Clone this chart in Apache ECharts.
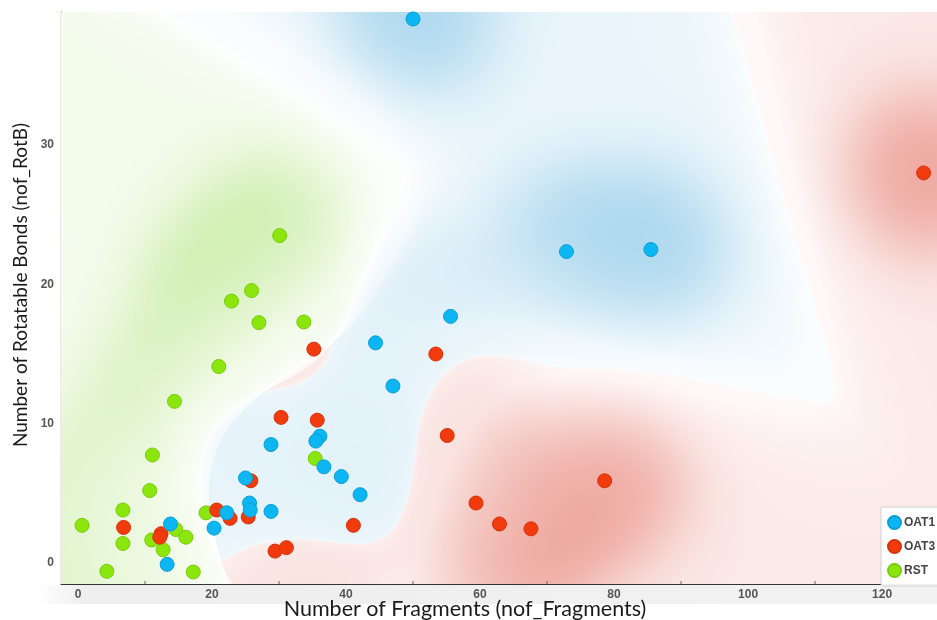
<!DOCTYPE html>
<html>
<head>
<meta charset="utf-8">
<script src="https://cdn.jsdelivr.net/npm/echarts@6/dist/echarts.min.js"></script>
<style>
html,body{margin:0;padding:0;background:#fff;}
#chart{width:937px;height:620px;}
</style>
</head>
<body>
<div id="chart"></div>
<script>
// ---- data ----
const oat1 = [
  [50.0,39.05],[72.9,22.35],[85.5,22.5],[55.6,17.7],[44.4,15.8],[47.0,12.7],
  [36.1,9.1],[35.5,8.75],[36.7,6.9],[39.3,6.2],[42.1,4.9],[28.8,8.5],
  [25.0,6.1],[25.6,4.3],[25.7,3.8],[22.2,3.6],[20.3,2.5],[28.8,3.7],
  [13.8,2.8],[13.3,-0.1]
];
const oat3 = [
  [126.2,28.0],[35.2,15.35],[53.4,15.0],[35.7,10.25],[55.1,9.15],[59.4,4.3],
  [62.9,2.8],[67.6,2.45],[41.1,2.7],[78.6,5.9],[30.3,10.45],[25.8,5.9],
  [20.7,3.8],[22.7,3.2],[25.4,3.3],[29.4,0.85],[31.1,1.1],[6.8,2.55],
  [12.4,2.1],[12.2,1.85]
];
const rst = [
  [30.1,23.5],[25.9,19.55],[22.9,18.8],[27.0,17.25],[33.7,17.3],[21.0,14.1],
  [14.4,11.6],[11.1,7.75],[10.7,5.2],[6.7,3.8],[0.6,2.7],[6.7,1.4],
  [11.0,1.65],[12.7,0.95],[14.6,2.4],[16.1,1.85],[4.3,-0.6],[17.2,-0.65],
  [19.1,3.6],[35.4,7.5]
];
const xTicks = [0,20,40,60,80,100,120];
const xMinorTicks = [10,30,50,70,90,110];
const yTicks = [0,10,20,30];
const classNames = ['OAT1','OAT3','RST'];

const X_MIN = -2.54, X_MAX = 128.2, Y_MIN = -1.51, Y_MAX = 39.55;

// ---- background class-probability surface, derived from the points ----
const groups = [oat1, oat3, rst];
const tint = [[160,210,236],[236,156,146],[198,235,160]];
const SX = 7.5, SY = 3.6, SXL = 14, SYL = 7;
function kde(g, xv, yv, sx, sy) {
  const pts = groups[g]; let s = 0;
  for (let k = 0; k < pts.length; k++) {
    const dx = (xv - pts[k][0]) / sx, dy = (yv - pts[k][1]) / sy;
    s += Math.exp(-0.5 * (dx*dx + dy*dy));
  }
  return s;
}
let bgCanvas = null, bgKey = '';
function buildBg(x0, y0, w, h) {
  const key = [x0,y0,w,h].join(',');
  if (bgCanvas && bgKey === key) return bgCanvas;
  const c = document.createElement('canvas');
  const W = Math.max(1, Math.round(w)), H = Math.max(1, Math.round(h));
  c.width = W; c.height = H;
  const ctx = c.getContext('2d');
  const img = ctx.createImageData(W, H);
  for (let j = 0; j < H; j++) {
    const yv = Y_MAX - (j + 0.5) / H * (Y_MAX - Y_MIN);
    for (let i = 0; i < W; i++) {
      const xv = X_MIN + (i + 0.5) / W * (X_MAX - X_MIN);
      const ds = [kde(0,xv,yv,SX,SY), kde(1,xv,yv,SX,SY), kde(2,xv,yv,SX,SY)];
      const dl = [kde(0,xv,yv,SXL,SYL), kde(1,xv,yv,SXL,SYL), kde(2,xv,yv,SXL,SYL)];
      let b = 0; if (ds[1] > ds[b]) b = 1; if (ds[2] > ds[b]) b = 2;
      let oth = 0; for (let g = 0; g < 3; g++) if (g !== b && dl[g] > oth) oth = dl[g];
      let mL = (dl[b] - oth) / (dl[b] + oth + 1e-300);
      let othS = 0; for (let g = 0; g < 3; g++) if (g !== b && ds[g] > othS) othS = ds[g];
      const mS = (ds[b] - othS) / (ds[b] + othS + 1e-300);
      if (mL < 0.15) mL = 0.15;
      const dens = 1 - Math.exp(-ds[b] / 0.6);
      const soft = (b === 2 || othS === ds[2]) ? 0.45 : 0.12;
      let s = Math.pow(mL, 0.6) * Math.pow(mS, soft) * (0.22 + 0.78 * dens);
      if (s > 1) s = 1;
      const col = tint[b];
      const p = (j * W + i) * 4;
      img.data[p]   = Math.round(255 + (col[0] - 255) * s);
      img.data[p+1] = Math.round(255 + (col[1] - 255) * s);
      img.data[p+2] = Math.round(255 + (col[2] - 255) * s);
      img.data[p+3] = 255;
    }
  }
  ctx.putImageData(img, 0, 0);
  bgCanvas = c; bgKey = key;
  return c;
}

const chart = echarts.init(document.getElementById('chart'), null, {renderer: 'canvas'});

const dotColors = {OAT1: '#0cb6f2', OAT3: '#f23b0c', RST: '#8ae60c'};
const dotBorders = {OAT1: '#0a9fd6', OAT3: '#d6330a', RST: '#79cc0a'};

function scatter(name, data) {
  return {
    name: name, type: 'scatter', data: data, symbol: 'circle', symbolSize: 14,
    itemStyle: {color: dotColors[name], borderColor: dotBorders[name], borderWidth: 1, opacity: 1},
    emphasis: {disabled: true}, z: 5
  };
}

const option = {
  animation: false,
  backgroundColor: '#ffffff',
  grid: {left: 61, top: 12, right: 0, bottom: 36, containLabel: false, outerBoundsMode: 'none'},
  graphic: [{
    type: 'rect', z: -1, silent: true,
    shape: {x: 39, y: 585, width: 898, height: 19},
    style: {fill: new echarts.graphic.LinearGradient(0, 0, 1, 0, [
      {offset: 0, color: 'rgba(238,238,238,0)'},
      {offset: 0.05, color: 'rgba(238,238,238,1)'},
      {offset: 1, color: 'rgba(242,242,242,1)'}
    ])}
  }],
  xAxis: {
    type: 'value', min: X_MIN, max: X_MAX,
    name: 'Number of Fragments (nof_Fragments)', nameLocation: 'middle', nameGap: 14,
    nameMoveOverlap: false,
    nameTextStyle: {fontFamily: 'Lato', fontSize: 21.5, color: '#1a1a1a', padding: [0, 68, 0, 0]},
    axisLine: {show: true, onZero: false, lineStyle: {color: '#333', width: 1.2}},
    axisTick: {show: true, length: 5, inside: true, customValues: xTicks, lineStyle: {color: '#666'}},
    minorTick: {show: false},
    axisLabel: {customValues: xTicks, fontFamily: 'Liberation Sans', fontWeight: 'bold', fontSize: 12, color: '#555', margin: 5},
    splitLine: {show: false}
  },
  yAxis: {
    type: 'value', min: Y_MIN, max: Y_MAX,
    name: 'Number of Rotatable Bonds (nof_RotB)', nameLocation: 'middle', nameGap: 31,
    nameMoveOverlap: false,
    nameTextStyle: {fontFamily: 'Lato', fontSize: 19, color: '#1a1a1a', padding: [0, 0, 0, 26]},
    axisLine: {show: true, onZero: false, lineStyle: {color: '#333', width: 1.2}},
    axisTick: {show: true, length: 4, inside: true, customValues: yTicks, lineStyle: {color: '#888'}},
    axisLabel: {customValues: yTicks, fontFamily: 'Liberation Sans', fontWeight: 'bold', fontSize: 12, color: '#555', margin: 7},
    splitLine: {show: false}
  },
  legend: {
    data: classNames, orient: 'vertical', left: 881, top: 507,
    backgroundColor: 'rgba(255,255,255,0.92)', borderColor: '#d0d0d0', borderWidth: 1, borderRadius: 2,
    padding: [8, 20, 8, 6], itemGap: 9, itemWidth: 13, itemHeight: 13, icon: 'circle',
    textStyle: {fontFamily: 'Liberation Sans', fontWeight: 'bold', fontSize: 12, color: '#444', padding: [0,0,0,-2]}
  },
  series: [
    {
      type: 'custom', name: 'surface', silent: true, clip: true, z: 1,
      data: [[X_MIN, Y_MAX]],
      renderItem: function (params, api) {
        const tl = api.coord([X_MIN, Y_MAX]);
        const br = api.coord([X_MAX, Y_MIN]);
        const w = br[0] - tl[0], h = br[1] - tl[1];
        const c = buildBg(tl[0], tl[1], w, h);
        return {type: 'image', style: {image: c, x: tl[0], y: tl[1], width: w, height: h}};
      }
    },
    {
      type: 'custom', name: 'minorTicks', silent: true, clip: false, z: 6,
      data: xMinorTicks.map(v => [v, Y_MIN]),
      renderItem: function (params, api) {
        const p = api.coord([api.value(0), Y_MIN]);
        return {type: 'line', shape: {x1: p[0], y1: p[1], x2: p[0], y2: p[1] - 3}, style: {stroke: '#666', lineWidth: 1}};
      }
    },
    scatter('RST', rst),
    scatter('OAT3', oat3),
    scatter('OAT1', oat1)
  ]
};
chart.setOption(option);
</script>
</body>
</html>
